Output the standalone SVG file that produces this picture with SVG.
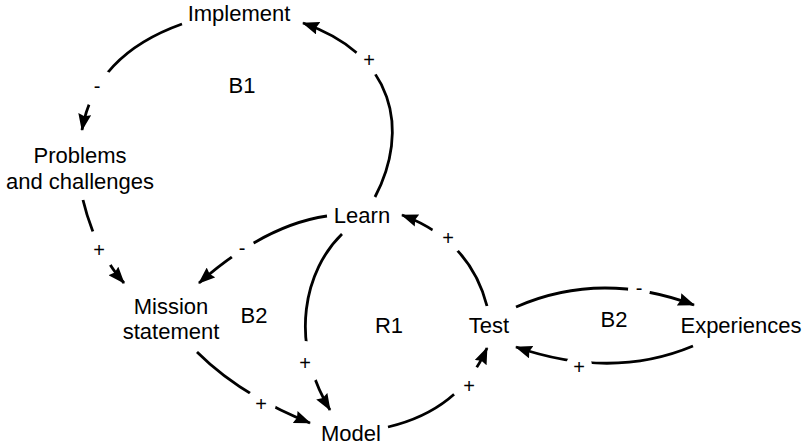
<svg xmlns="http://www.w3.org/2000/svg" width="802" height="445" viewBox="0 0 802 445">
  <style>
    .node { font-family: "Liberation Sans", Arial, Helvetica, sans-serif; font-size: 22px; fill: #000; text-anchor: middle; }
    .loop { font-family: "Liberation Sans", Arial, Helvetica, sans-serif; font-size: 22px; fill: #000; text-anchor: middle; }
    .sign { font-family: "Liberation Sans", Arial, Helvetica, sans-serif; font-size: 20px; fill: #000; text-anchor: middle; }
    .link { fill: none; stroke: #000; stroke-width: 2.8; stroke-linecap: butt; marker-end: url(#head); }
  </style>
  <defs>
    <marker id="head" viewBox="0 0 17 13" refX="16" refY="6.5" markerWidth="17" markerHeight="13" markerUnits="userSpaceOnUse" orient="auto">
      <path d="M0,0 L17,6.5 L0,13 L2,6.5 Z" fill="#000"/>
    </marker>
    <!-- breaks in the links where the polarity signs sit -->
    <mask id="gaps" maskUnits="userSpaceOnUse" x="0" y="0" width="802" height="445">
      <rect x="0" y="0" width="802" height="445" fill="#fff"/>
      <circle cx="98" cy="88" r="19" fill="#000"/>
      <circle cx="369" cy="61" r="15" fill="#000"/>
      <circle cx="100" cy="249" r="19" fill="#000"/>
      <circle cx="242" cy="249" r="13" fill="#000"/>
      <circle cx="305" cy="362" r="21" fill="#000"/>
      <circle cx="261" cy="403" r="15" fill="#000"/>
      <circle cx="468" cy="383" r="18" fill="#000"/>
      <circle cx="448" cy="237" r="17" fill="#000"/>
      <circle cx="639" cy="290" r="11" fill="#000"/>
      <circle cx="579" cy="366" r="13" fill="#000"/>
    </mask>
  </defs>

  <g id="connectors" mask="url(#gaps)">
    <path id="implement-problems" class="link" d="M182,24 Q95,55 82,130"/>
    <path id="learn-implement" class="link" d="M375,197 C410,130 395,55 303,23"/>
    <path id="problems-mission" class="link" d="M83,200 Q95,250 124,283"/>
    <path id="learn-mission" class="link" d="M327,216 Q265,225 199,283"/>
    <path id="learn-model" class="link" d="M342,234 C305,270 288,340 330,410"/>
    <path id="mission-model" class="link" d="M197,352 Q240,395 310,423"/>
    <path id="model-test" class="link" d="M388,427 Q460,410 487,348"/>
    <path id="test-learn" class="link" d="M487,306 Q470,240 402,215"/>
    <path id="test-experiences" class="link" d="M516,307 Q600,270 694,305"/>
    <path id="experiences-test" class="link" d="M693,346 Q612,380 516,347"/>
  </g>

  <g id="signs">
    <text class="sign" x="97" y="93">-</text>
    <text class="sign" x="369" y="67">+</text>
    <text class="sign" x="99" y="257">+</text>
    <text class="sign" x="242" y="255">-</text>
    <text class="sign" x="305" y="370">+</text>
    <text class="sign" x="261" y="411">+</text>
    <text class="sign" x="469" y="393">+</text>
    <text class="sign" x="448" y="245">+</text>
    <text class="sign" x="639" y="295">-</text>
    <text class="sign" x="579" y="374">+</text>
  </g>

  <g id="loops">
    <text class="loop" x="242" y="93">B1</text>
    <text class="loop" x="254" y="323">B2</text>
    <text class="loop" x="389" y="333">R1</text>
    <text class="loop" x="614" y="327">B2</text>
  </g>

  <g id="implement"><text class="node" x="239" y="21">Implement</text></g>
  <g id="problems">
    <text class="node" x="80" y="163">Problems</text>
    <text class="node" x="80" y="189">and challenges</text>
  </g>
  <g id="learn"><text class="node" x="362" y="223">Learn</text></g>
  <g id="mission">
    <text class="node" x="171" y="314">Mission</text>
    <text class="node" x="171" y="339">statement</text>
  </g>
  <g id="model"><text class="node" x="351" y="441">Model</text></g>
  <g id="test"><text class="node" x="489" y="333">Test</text></g>
  <g id="experiences"><text class="node" x="741" y="333">Experiences</text></g>
</svg>
